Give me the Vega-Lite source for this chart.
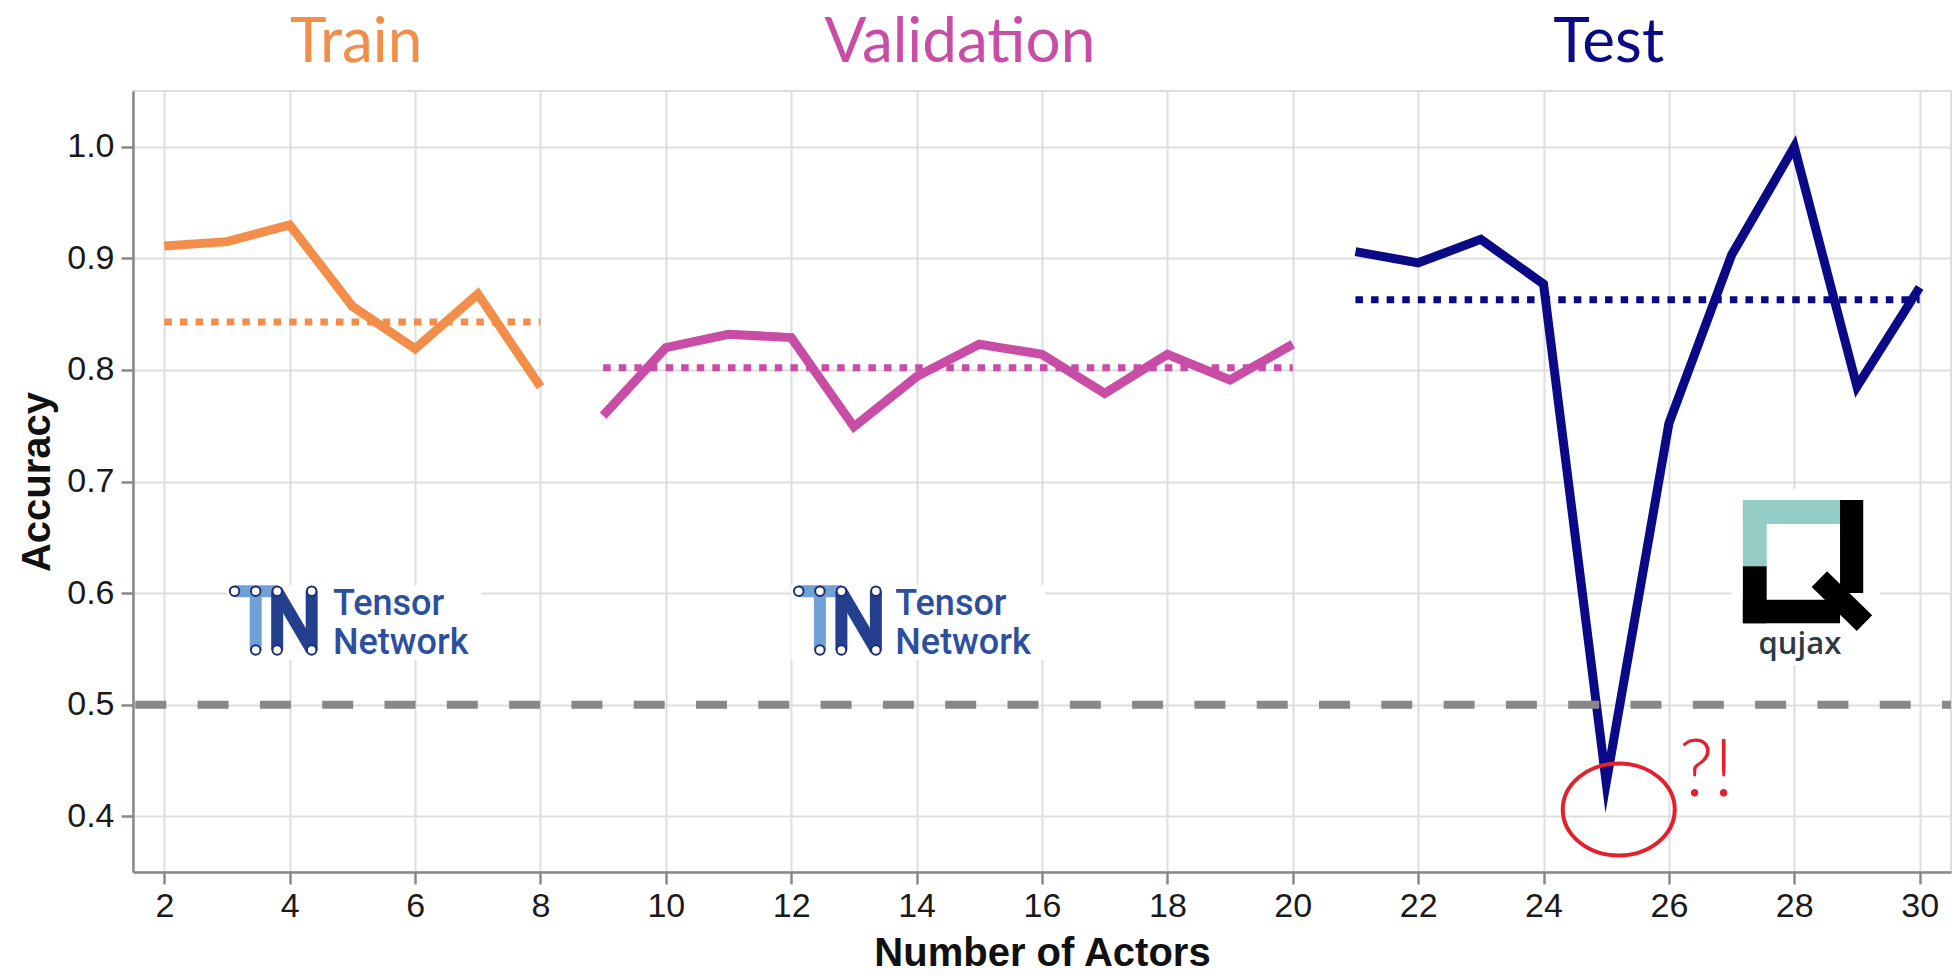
{
  "$schema": "https://vega.github.io/schema/vega-lite/v6.json",
  "width": 1818,
  "height": 781,
  "autosize": {"type": "none"},
  "padding": {"left": 133, "top": 91, "right": 5, "bottom": 106},
  "background": "white",
  "config": {
    "view": {"stroke": "#dddddd", "strokeWidth": 2},
    "font": "Liberation Sans",
    "axis": {
      "grid": true, "gridColor": "#dedede", "gridWidth": 2,
      "domainColor": "#888888", "domainWidth": 2.5,
      "tickColor": "#888888", "tickWidth": 2.5, "tickSize": 12,
      "labelFont": "Liberation Sans", "labelFontSize": 34, "labelColor": "#1a1a1a",
      "titleFont": "Liberation Sans", "titleFontSize": 40, "titleFontWeight": "bold", "titleColor": "#111111"
    },
    "axisX": {"labelPadding": 5, "titlePadding": 10},
    "axisY": {"labelPadding": 7, "titlePadding": 9}
  },
  "datasets": {
    "acc": [
      {"set": "Train", "actors": 2, "accuracy": 0.911},
      {"set": "Train", "actors": 3, "accuracy": 0.915},
      {"set": "Train", "actors": 4, "accuracy": 0.93},
      {"set": "Train", "actors": 5, "accuracy": 0.857},
      {"set": "Train", "actors": 6, "accuracy": 0.819},
      {"set": "Train", "actors": 7, "accuracy": 0.868},
      {"set": "Train", "actors": 8, "accuracy": 0.785},
      {"set": "Validation", "actors": 9, "accuracy": 0.759},
      {"set": "Validation", "actors": 10, "accuracy": 0.82},
      {"set": "Validation", "actors": 11, "accuracy": 0.832},
      {"set": "Validation", "actors": 12, "accuracy": 0.829},
      {"set": "Validation", "actors": 13, "accuracy": 0.749},
      {"set": "Validation", "actors": 14, "accuracy": 0.794},
      {"set": "Validation", "actors": 15, "accuracy": 0.823},
      {"set": "Validation", "actors": 16, "accuracy": 0.814},
      {"set": "Validation", "actors": 17, "accuracy": 0.779},
      {"set": "Validation", "actors": 18, "accuracy": 0.814},
      {"set": "Validation", "actors": 19, "accuracy": 0.791},
      {"set": "Validation", "actors": 20, "accuracy": 0.823},
      {"set": "Test", "actors": 21, "accuracy": 0.906},
      {"set": "Test", "actors": 22, "accuracy": 0.896},
      {"set": "Test", "actors": 23, "accuracy": 0.917},
      {"set": "Test", "actors": 24, "accuracy": 0.877},
      {"set": "Test", "actors": 25, "accuracy": 0.43},
      {"set": "Test", "actors": 26, "accuracy": 0.752},
      {"set": "Test", "actors": 27, "accuracy": 0.903},
      {"set": "Test", "actors": 28, "accuracy": 1.0},
      {"set": "Test", "actors": 29, "accuracy": 0.785},
      {"set": "Test", "actors": 30, "accuracy": 0.874}
    ],
    "means": [
      {"set": "Train", "start": 2, "end": 8, "mean": 0.843},
      {"set": "Validation", "start": 9, "end": 20, "mean": 0.802},
      {"set": "Test", "start": 21, "end": 30, "mean": 0.863}
    ],
    "titles": [
      {"set": "Train", "x": 5.06, "y": 1.076},
      {"set": "Validation", "x": 14.69, "y": 1.076},
      {"set": "Test", "x": 25.04, "y": 1.076}
    ],
    "chance": [{"accuracy": 0.5}],
    "logoBg": [
      {"x": 3.0, "x2": 7.05, "y": 0.54, "y2": 0.607},
      {"x": 12.0, "x2": 16.05, "y": 0.54, "y2": 0.607},
      {"x": 27.0, "x2": 29.37, "y": 0.535, "y2": 0.693}
    ],
    "tnLines": [
      {"part": "T", "x": 3.12, "x2": 3.8, "y": 0.6017, "y2": 0.6017},
      {"part": "T", "x": 3.457, "x2": 3.457, "y": 0.6017, "y2": 0.549},
      {"part": "N", "x": 3.8, "x2": 3.8, "y": 0.6017, "y2": 0.549},
      {"part": "N", "x": 3.8, "x2": 4.35, "y": 0.6017, "y2": 0.549},
      {"part": "N", "x": 4.35, "x2": 4.35, "y": 0.6017, "y2": 0.549},
      {"part": "T", "x": 12.12, "x2": 12.8, "y": 0.6017, "y2": 0.6017},
      {"part": "T", "x": 12.457, "x2": 12.457, "y": 0.6017, "y2": 0.549},
      {"part": "N", "x": 12.8, "x2": 12.8, "y": 0.6017, "y2": 0.549},
      {"part": "N", "x": 12.8, "x2": 13.35, "y": 0.6017, "y2": 0.549},
      {"part": "N", "x": 13.35, "x2": 13.35, "y": 0.6017, "y2": 0.549}
    ],
    "tnDots": [
      {"x": 3.12, "y": 0.6017}, {"x": 3.457, "y": 0.6017}, {"x": 3.8, "y": 0.6017}, {"x": 4.35, "y": 0.6017},
      {"x": 3.457, "y": 0.549}, {"x": 3.8, "y": 0.549}, {"x": 4.35, "y": 0.549},
      {"x": 12.12, "y": 0.6017}, {"x": 12.457, "y": 0.6017}, {"x": 12.8, "y": 0.6017}, {"x": 13.35, "y": 0.6017},
      {"x": 12.457, "y": 0.549}, {"x": 12.8, "y": 0.549}, {"x": 13.35, "y": 0.549}
    ],
    "tnText": [
      {"label": "Tensor\nNetwork", "x": 4.69, "y": 0.6055},
      {"label": "Tensor\nNetwork", "x": 13.66, "y": 0.6055}
    ],
    "qRects": [
      {"part": "teal", "x": 27.18, "x2": 28.73, "y": 0.662, "y2": 0.6835},
      {"part": "teal", "x": 27.18, "x2": 27.56, "y": 0.624, "y2": 0.6835},
      {"part": "black", "x": 27.18, "x2": 27.56, "y": 0.573, "y2": 0.624},
      {"part": "black", "x": 27.18, "x2": 28.73, "y": 0.573, "y2": 0.594},
      {"part": "black", "x": 28.73, "x2": 29.1, "y": 0.6, "y2": 0.6835}
    ],
    "qTail": [{"x": 28.4, "x2": 29.12, "y": 0.6125, "y2": 0.573}],
    "qText": [{"label": "qujax", "x": 28.09, "y": 0.545}],
    "mark": [{"x": 25.2, "y": 0.406}],
    "exclaim": [{"label": "?!", "x": 26.6, "y": 0.418}]
  },
  "layer": [
    {
      "data": {"name": "acc"},
      "mark": {"type": "line", "strokeWidth": 9, "strokeJoin": "miter", "strokeMiterLimit": 20, "strokeCap": "butt"},
      "encoding": {
        "x": {
          "field": "actors", "type": "quantitative", "title": "Number of Actors",
          "scale": {"domain": [1.5, 30.5], "nice": false, "zero": false},
          "axis": {"values": [2, 4, 6, 8, 10, 12, 14, 16, 18, 20, 22, 24, 26, 28, 30], "format": "d"}
        },
        "y": {
          "field": "accuracy", "type": "quantitative", "title": "Accuracy",
          "scale": {"domain": [0.35, 1.05], "nice": false, "zero": false},
          "axis": {"values": [0.4, 0.5, 0.6, 0.7, 0.8, 0.9, 1.0], "format": ".1f"}
        },
        "detail": {"field": "set"},
        "color": {"field": "set", "type": "nominal", "legend": null, "scale": {"domain": ["Train", "Validation", "Test"], "range": ["#f28e49", "#c94ca6", "#0a0a86"]}}
      }
    },
    {
      "data": {"name": "logoBg"},
      "mark": {"type": "rect", "color": "white"},
      "encoding": {
        "x": {"field": "x", "type": "quantitative", "title": "Number of Actors"},
        "x2": {"field": "x2"},
        "y": {"field": "y", "type": "quantitative", "title": "Accuracy"},
        "y2": {"field": "y2"}
      }
    },
    {
      "data": {"name": "tnLines"},
      "transform": [{"filter": "datum.part === 'T'"}],
      "mark": {"type": "rule", "color": "#6fa1d6", "strokeWidth": 12, "strokeCap": "butt"},
      "encoding": {
        "x": {"field": "x", "type": "quantitative", "title": "Number of Actors"},
        "x2": {"field": "x2"},
        "y": {"field": "y", "type": "quantitative", "title": "Accuracy"},
        "y2": {"field": "y2"}
      }
    },
    {
      "data": {"name": "tnLines"},
      "transform": [{"filter": "datum.part === 'N'"}],
      "mark": {"type": "rule", "color": "#253f8f", "strokeWidth": 12, "strokeCap": "butt"},
      "encoding": {
        "x": {"field": "x", "type": "quantitative", "title": "Number of Actors"},
        "x2": {"field": "x2"},
        "y": {"field": "y", "type": "quantitative", "title": "Accuracy"},
        "y2": {"field": "y2"}
      }
    },
    {
      "data": {"name": "tnDots"},
      "mark": {"type": "point", "shape": "circle", "filled": true, "fill": "white", "stroke": "#1e2f6e", "strokeWidth": 2, "size": 90, "opacity": 1},
      "encoding": {
        "x": {"field": "x", "type": "quantitative", "title": "Number of Actors"},
        "y": {"field": "y", "type": "quantitative", "title": "Accuracy"}
      }
    },
    {
      "data": {"name": "tnText"},
      "mark": {"type": "text", "font": "Roboto", "fontSize": 36, "fontWeight": 500, "color": "#2c4f9e", "align": "left", "baseline": "top", "lineBreak": "\n", "lineHeight": 39},
      "encoding": {
        "x": {"field": "x", "type": "quantitative", "title": "Number of Actors"},
        "y": {"field": "y", "type": "quantitative", "title": "Accuracy"},
        "text": {"field": "label"}
      }
    },
    {
      "data": {"name": "qRects"},
      "transform": [{"filter": "datum.part === 'teal'"}],
      "mark": {"type": "rect", "color": "#94cdc6"},
      "encoding": {
        "x": {"field": "x", "type": "quantitative", "title": "Number of Actors"},
        "x2": {"field": "x2"},
        "y": {"field": "y", "type": "quantitative", "title": "Accuracy"},
        "y2": {"field": "y2"}
      }
    },
    {
      "data": {"name": "qRects"},
      "transform": [{"filter": "datum.part === 'black'"}],
      "mark": {"type": "rect", "color": "#000000"},
      "encoding": {
        "x": {"field": "x", "type": "quantitative", "title": "Number of Actors"},
        "x2": {"field": "x2"},
        "y": {"field": "y", "type": "quantitative", "title": "Accuracy"},
        "y2": {"field": "y2"}
      }
    },
    {
      "data": {"name": "qTail"},
      "mark": {"type": "rule", "color": "#000000", "strokeWidth": 22, "strokeCap": "butt"},
      "encoding": {
        "x": {"field": "x", "type": "quantitative", "title": "Number of Actors"},
        "x2": {"field": "x2"},
        "y": {"field": "y", "type": "quantitative", "title": "Accuracy"},
        "y2": {"field": "y2"}
      }
    },
    {
      "data": {"name": "qText"},
      "mark": {"type": "text", "font": "Open Sans", "fontWeight": 600, "fontSize": 31, "color": "#2d3a46", "align": "center", "baseline": "alphabetic"},
      "encoding": {
        "x": {"field": "x", "type": "quantitative", "title": "Number of Actors"},
        "y": {"field": "y", "type": "quantitative", "title": "Accuracy"},
        "text": {"field": "label"}
      }
    },
    {
      "data": {"name": "means"},
      "mark": {"type": "rule", "strokeWidth": 7, "strokeDash": [7.5, 8.1], "strokeCap": "butt"},
      "encoding": {
        "x": {"field": "start", "type": "quantitative", "title": "Number of Actors"},
        "x2": {"field": "end"},
        "y": {"field": "mean", "type": "quantitative", "title": "Accuracy"},
        "color": {"field": "set", "type": "nominal", "legend": null}
      }
    },
    {
      "data": {"name": "chance"},
      "mark": {"type": "rule", "color": "#888888", "strokeWidth": 8, "strokeDash": [31, 31.3], "strokeDashOffset": 22, "strokeCap": "butt"},
      "encoding": {
        "y": {"field": "accuracy", "type": "quantitative", "title": "Accuracy"}
      }
    },
    {
      "data": {"name": "titles"},
      "mark": {"type": "text", "font": "Lato", "fontSize": 62, "align": "center", "baseline": "alphabetic"},
      "encoding": {
        "x": {"field": "x", "type": "quantitative", "title": "Number of Actors"},
        "y": {"field": "y", "type": "quantitative", "title": "Accuracy"},
        "text": {"field": "set"},
        "color": {"field": "set", "type": "nominal", "legend": null}
      }
    },
    {
      "data": {"name": "mark"},
      "mark": {"type": "point", "shape": "M -1 0 A 1 0.82 0 1 0 1 0 A 1 0.82 0 1 0 -1 0 Z", "filled": false, "stroke": "#e3202b", "strokeWidth": 4, "size": 12544, "opacity": 1},
      "encoding": {
        "x": {"field": "x", "type": "quantitative", "title": "Number of Actors"},
        "y": {"field": "y", "type": "quantitative", "title": "Accuracy"}
      }
    },
    {
      "data": {"name": "exclaim"},
      "mark": {"type": "text", "font": "Lato", "fontSize": 80, "fontWeight": 300, "color": "#e3202b", "align": "center", "baseline": "alphabetic"},
      "encoding": {
        "x": {"field": "x", "type": "quantitative", "title": "Number of Actors"},
        "y": {"field": "y", "type": "quantitative", "title": "Accuracy"},
        "text": {"field": "label"}
      }
    }
  ]
}
